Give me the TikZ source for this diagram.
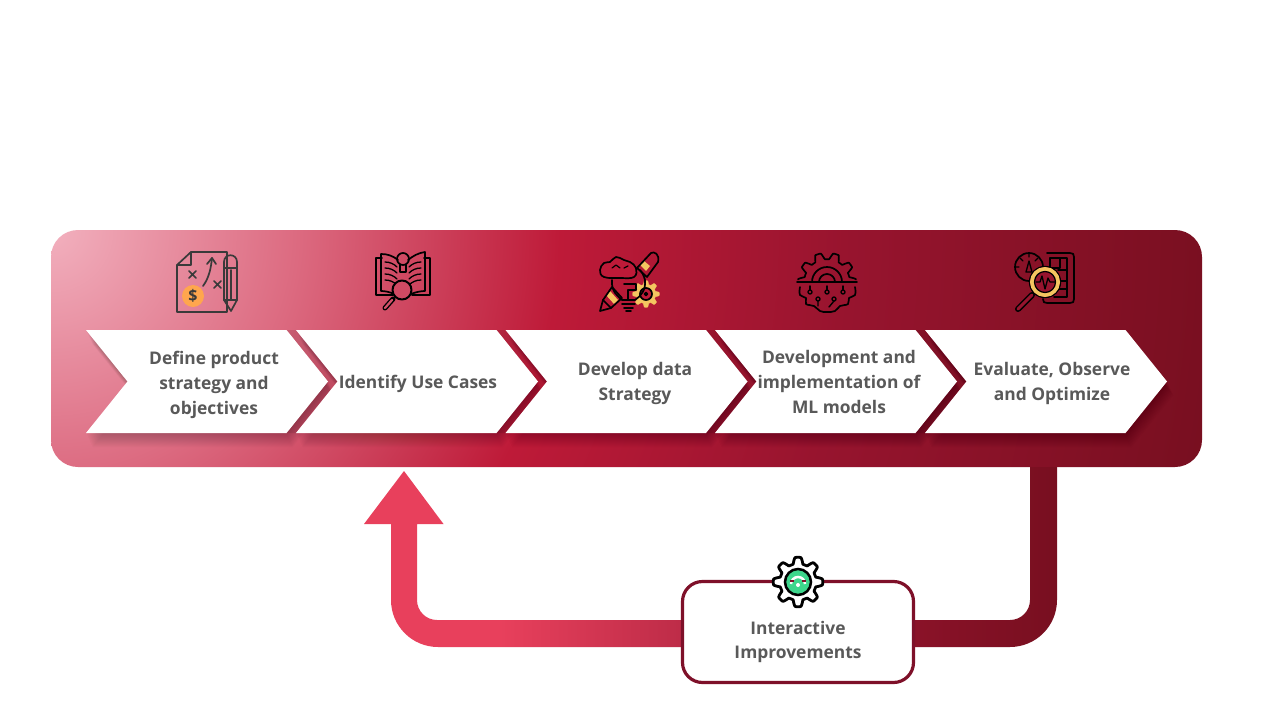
\documentclass[tikz,border=0pt]{standalone}
\usepackage{fontspec}
\setmainfont{Open Sans}
\usetikzlibrary{shapes.symbols}
\definecolor{text_gray}{HTML}{595959}
\definecolor{icon_gray}{HTML}{3A3A3A}
\definecolor{wine}{HTML}{7E1029}
\definecolor{coin_orange}{HTML}{FFA64D}
\definecolor{gold}{HTML}{F4C560}
\definecolor{mint}{HTML}{3DD68C}
\definecolor{c0}{HTML}{F2B0BE}
\definecolor{c1}{HTML}{DC6A80}
\definecolor{c2}{HTML}{BE1A38}
\definecolor{c3}{HTML}{97142E}
\definecolor{c4}{HTML}{780F20}
\definecolor{a0}{HTML}{E8405C}
\definecolor{a1}{HTML}{BE2C48}
\definecolor{a2}{HTML}{8A1228}
\pgfdeclareradialshading{bar_shade}{\pgfpointorigin}{%
  color(0bp)=(c0);color(5bp)=(c1);color(10.3bp)=(c2);color(16.2bp)=(c3);color(23.8bp)=(c4);color(50bp)=(c4)}
\pgfdeclarehorizontalshading{arrow_shade}{100bp}{%
  color(0bp)=(a0);color(34.8bp)=(a0);color(47.8bp)=(a1);color(64.7bp)=(a2);color(75bp)=(c4);color(100bp)=(c4)}
\begin{document}
\begin{tikzpicture}[
    x=1pt, y=-1pt,
    bar_style/.style={rectangle, rounded corners=27pt, minimum width=1151pt, minimum height=237pt, inner sep=0pt,
        path picture={\shade[shading=bar_shade] (path picture bounding box.north west) ++(-1235,-1235) rectangle ++(2470,2470);}},
    chevron_style/.style={signal, signal from=west, signal to=east, signal pointer angle=102.3,
        minimum width=242pt, minimum height=103pt, inner sep=0pt, outer sep=0pt},
    label_style/.style={align=center, text=text_gray, font=\bfseries\fontsize{17.4}{25}\selectfont},
    box_style/.style={rectangle, rounded corners=20pt, draw=wine, line width=3.2pt, fill=white,
        minimum width=231pt, minimum height=101pt, inner sep=0pt},
    icon_line/.style={line width=1.7pt, line cap=round, line join=round, draw=black},
    arrow_style/.style={shade, shading=arrow_shade}
]
\useasboundingbox (0,0) rectangle (1280,720);
\fill[white] (0,0) rectangle (1280,720);
\node[bar_style] (bar) at (626.5,348.5) {};
% Fleche de retour
\coordinate (arrow_tip) at (404,471);
\coordinate (arrow_tail) at (1057,467);
\path[arrow_style] (arrow_tip) -- ++(39.5,53) -- ++(-26.5,0) [rounded corners=20pt] -- ++(0,96) -- ++(613,0) [sharp corners] -- ++(0,-153)
    -- (arrow_tail) [rounded corners=47pt] -- ++(0,180) -- ++(-666,0) [sharp corners] -- ++(0,-123) -- ++(-27,0) -- cycle;
% Ombres et chevrons
\foreach \i/\posx in {1/86,2/296,3/505.5,4/715,5/925} {
    \foreach \d in {1,...,14} {
        \node[chevron_style, fill=black, opacity=.014] (sh\i\d) at ({\posx+121+\d*.45},{381.5+\d}) {};
    }
}
\foreach \i/\posx in {1/86,2/296,3/505.5,4/715} {
    \node[chevron_style, fill=black, opacity=.09] (gap\i) at ({\posx+130},381.5) {};
}
\foreach \i/\posx in {1/86,2/296,3/505.5,4/715,5/925} {
    \node[chevron_style, fill=white] (s\i) at ({\posx+121},381.5) {};
}
\node[label_style] (l1) at (214,384.5) {Define product\\strategy and\\objectives};
\node[label_style] (l2) at (418,384) {Identify Use Cases};
\node[label_style] (l3) at (635,383) {Develop data\\Strategy};
\node[label_style] (l4) at (839,382) {Development and\\implementation of\\ML models};
\node[label_style] (l5) at (1052,383) {Evaluate, Observe\\and Optimize};
% Icone 1
\begin{scope}[icon_line/.append style={draw=icon_gray}]
    \draw[icon_line] (191,252) -- (227,252) -- (227,312) -- (177,312) -- (177,265) -- cycle;
    \draw[icon_line] (177,265) -- (191,265) -- (191,252);
    \draw[icon_line] (189,271) -- (196,278) (196,271) -- (189,278);
    \draw[icon_line] (214,281) -- (221,288) (221,281) -- (214,288);
    \draw[icon_line] (203,286) .. controls (209,278) and (211,268) .. (212,258);
    \draw[icon_line] (207,264) -- (212,258) -- (216,264);
    \node[circle, fill=coin_orange, minimum size=22pt, inner sep=0pt, text=icon_gray, font=\bfseries\fontsize{16}{16}\selectfont] (coin) at (193,296) {\$};
    \draw[icon_line] (224,300) -- (224,262) .. controls (224,253) and (237,253) .. (237,262) -- (237,300) -- (231,311) -- cycle;
    \draw[icon_line] (224,268) -- (237,268) (231,270) -- (231,300) (224,300) -- (237,300);
\end{scope}
% Icone 2
\draw[icon_line] (382,258) -- (376,258) -- (376,295) -- (393,295);
\draw[icon_line] (424,258) -- (430,258) -- (430,295) -- (412,295);
\draw[icon_line] (398,260) .. controls (393,256) and (388,254) .. (381,254) -- (381,291) .. controls (385,291) and (390,292) .. (394,294);
\draw[icon_line] (408,260) .. controls (413,256) and (418,253) .. (425,252) -- (425,291) .. controls (421,291) and (416,292) .. (411,294);
\foreach \j in {0,1,2,3} {
    \draw[icon_line, line width=1.3pt] (385,{262+\j*6}) .. controls (390,{262+\j*6}) and (394,{264+\j*6}) .. (397,{267+\j*6});
    \draw[icon_line, line width=1.3pt] (421,{262+\j*6}) .. controls (416,{262+\j*6}) and (412,{264+\j*6}) .. (409,{267+\j*6});
}
\draw[icon_line] (403,259) circle (6);
\draw[icon_line] (400,265) -- (400,272) -- (406,272) -- (406,265);
\draw[icon_line, line width=5pt] (385,308) -- (393,299);
\draw[draw=c1!70!c2, line width=2.2pt, line cap=round] (385,308) -- (392,300);
\draw[icon_line, line width=2pt, fill=c1!60!c2] (402,290) circle (9.5);
% Icone 3
\draw[gold, fill=gold, shift={(646,294)}] plot[domain=0:360, samples=145, smooth] ({(11.5+1.8*max(-1,min(1,1.8*cos(8*\x))))*cos(\x)},{(11.5+1.8*max(-1,min(1,1.8*cos(8*\x))))*sin(\x)}) -- cycle;
\draw[icon_line, fill=c2] (646,294) circle (6);
\draw[icon_line] (646,294) circle (1.5);
\fill[gold] (606,295) -- (614,304) -- (618,300) -- (610,291) -- cycle;
\draw[icon_line] (612,287) -- (622,298) -- (611,308) -- (600,311) -- (603,300) -- cycle;
\draw[icon_line] (603,300) -- (611,308);
\fill[gold] (640,265) -- (646,271) -- (650,266) -- (644,261) -- cycle;
\draw[icon_line] (637,268) -- (647,277) -- (658,262) .. controls (660,254) and (654,251) .. (651,253) -- cycle;
\draw[icon_line] (612,280) .. controls (611,292) and (618,296) .. (622,300) -- (635,300) .. controls (641,296) and (646,290) .. (645,280) .. controls (644,276) and (642,272) .. (640,270);
\draw[icon_line] (622,304) -- (635,304) (624,308) -- (633,308) (626,311) -- (631,311);
\draw[icon_line] (628,300) -- (628,290) -- (636,290) -- (636,284) -- (624,284);
\draw[icon_line, fill=c2] plot[smooth cycle, tension=.7] coordinates {(604,277) (600,270) (604,263) (610,262) (616,257) (624,260) (630,262) (636,268) (634,277) (620,278)};
\draw[icon_line, line width=1.2pt] (612,268) -- (616,265) -- (620,268) (624,268) -- (628,266);
% Icone 4
\draw[icon_line, shift={(827,282)}] plot[domain=185:355, samples=120, smooth] ({(26+3.2*max(-1,min(1,1.8*cos(10*\x))))*cos(\x)},{(26+3.2*max(-1,min(1,1.8*cos(10*\x))))*sin(\x)});
\draw[icon_line] (797,282) -- (857,282);
\draw[icon_line] (812,282) arc (180:0:15 and -15);
\draw[icon_line] (819,282) arc (180:0:8 and -8);
\draw[icon_line] plot[smooth, tension=.7] coordinates {(800,287) (800,295) (806,298) (806,304) (814,306) (820,311) (827,312) (835,311) (840,306) (848,304) (849,298) (855,295) (855,287)};
\draw[icon_line, line width=1.4pt] (810,286) -- (810,290) (827,286) -- (827,290) (843,286) -- (843,290);
\foreach \px/\py in {810/292,827/292,843/292,818/299,834/299} {
    \draw[icon_line, line width=1.4pt] (\px,\py) circle (2);
}
\draw[icon_line, line width=1.4pt] (818,301) -- (818,306) (834,301) -- (829,307);
% Icone 5
\draw[icon_line] (1047,253) -- (1070,253) .. controls (1073,253) and (1074,254) .. (1074,257) -- (1074,299) .. controls (1074,302) and (1073,303) .. (1070,303) -- (1047,303) .. controls (1044,303) and (1043,302) .. (1043,299);
\draw[icon_line] (1050,258) -- (1067,258) -- (1067,297) -- (1054,297);
\draw[icon_line] (1050,258) -- (1050,268) -- (1060,268) -- (1060,258) (1058,270) -- (1067,270) (1058,281) -- (1067,281) (1058,289) -- (1067,289);
\draw[icon_line] (1029,267) circle (14);
\draw[icon_line, line width=1.3pt] (1029,253) -- (1029,257) (1015,267) -- (1019,267) (1020,258) -- (1023,261) (1038,258) -- (1035,261);
\draw[icon_line, line width=1.3pt] (1029,261) -- (1032,272) -- (1026,272) -- cycle;
\draw[icon_line, line width=6pt] (1018,309) -- (1032,295);
\draw[c3, line width=3pt, line cap=round] (1018,309) -- (1032,295);
\draw[icon_line, fill=c3, draw=black, line width=1.3pt] (1045,282) circle (15.5);
\draw[gold, line width=4pt] (1045,282) circle (13);
\draw[icon_line, line width=1.2pt] (1045,282) circle (10.5);
\draw[icon_line, line width=1.3pt] (1036,282) -- (1040,282) -- (1042,276) -- (1045,289) -- (1048,278) -- (1050,282) -- (1055,282);
% Boite du bas
\node[box_style] (box) at (798,632) {};
\node[label_style, font=\bfseries\fontsize{17.4}{24}\selectfont] (box_label) at (798,641.5) {Interactive\\Improvements};
\draw[line width=2.8pt, fill=white, line join=round, shift={(798,582)}] plot[domain=0:360, samples=145, smooth] ({(21.5+3.2*max(-1,min(1,1.8*cos(8*\x))))*cos(\x)},{(21.5+3.2*max(-1,min(1,1.8*cos(8*\x))))*sin(\x)}) -- cycle;
\draw[line width=2.5pt, fill=mint] (798,582) circle (13);
\draw[white, line width=2.5pt] (791,584) arc (180:0:7 and -7);
\draw[wine, line width=1.5pt] (790,581) -- (794,581) (802,581) -- (806,581);
\fill[white] (798,585) circle (2);
\end{tikzpicture}
\end{document}
